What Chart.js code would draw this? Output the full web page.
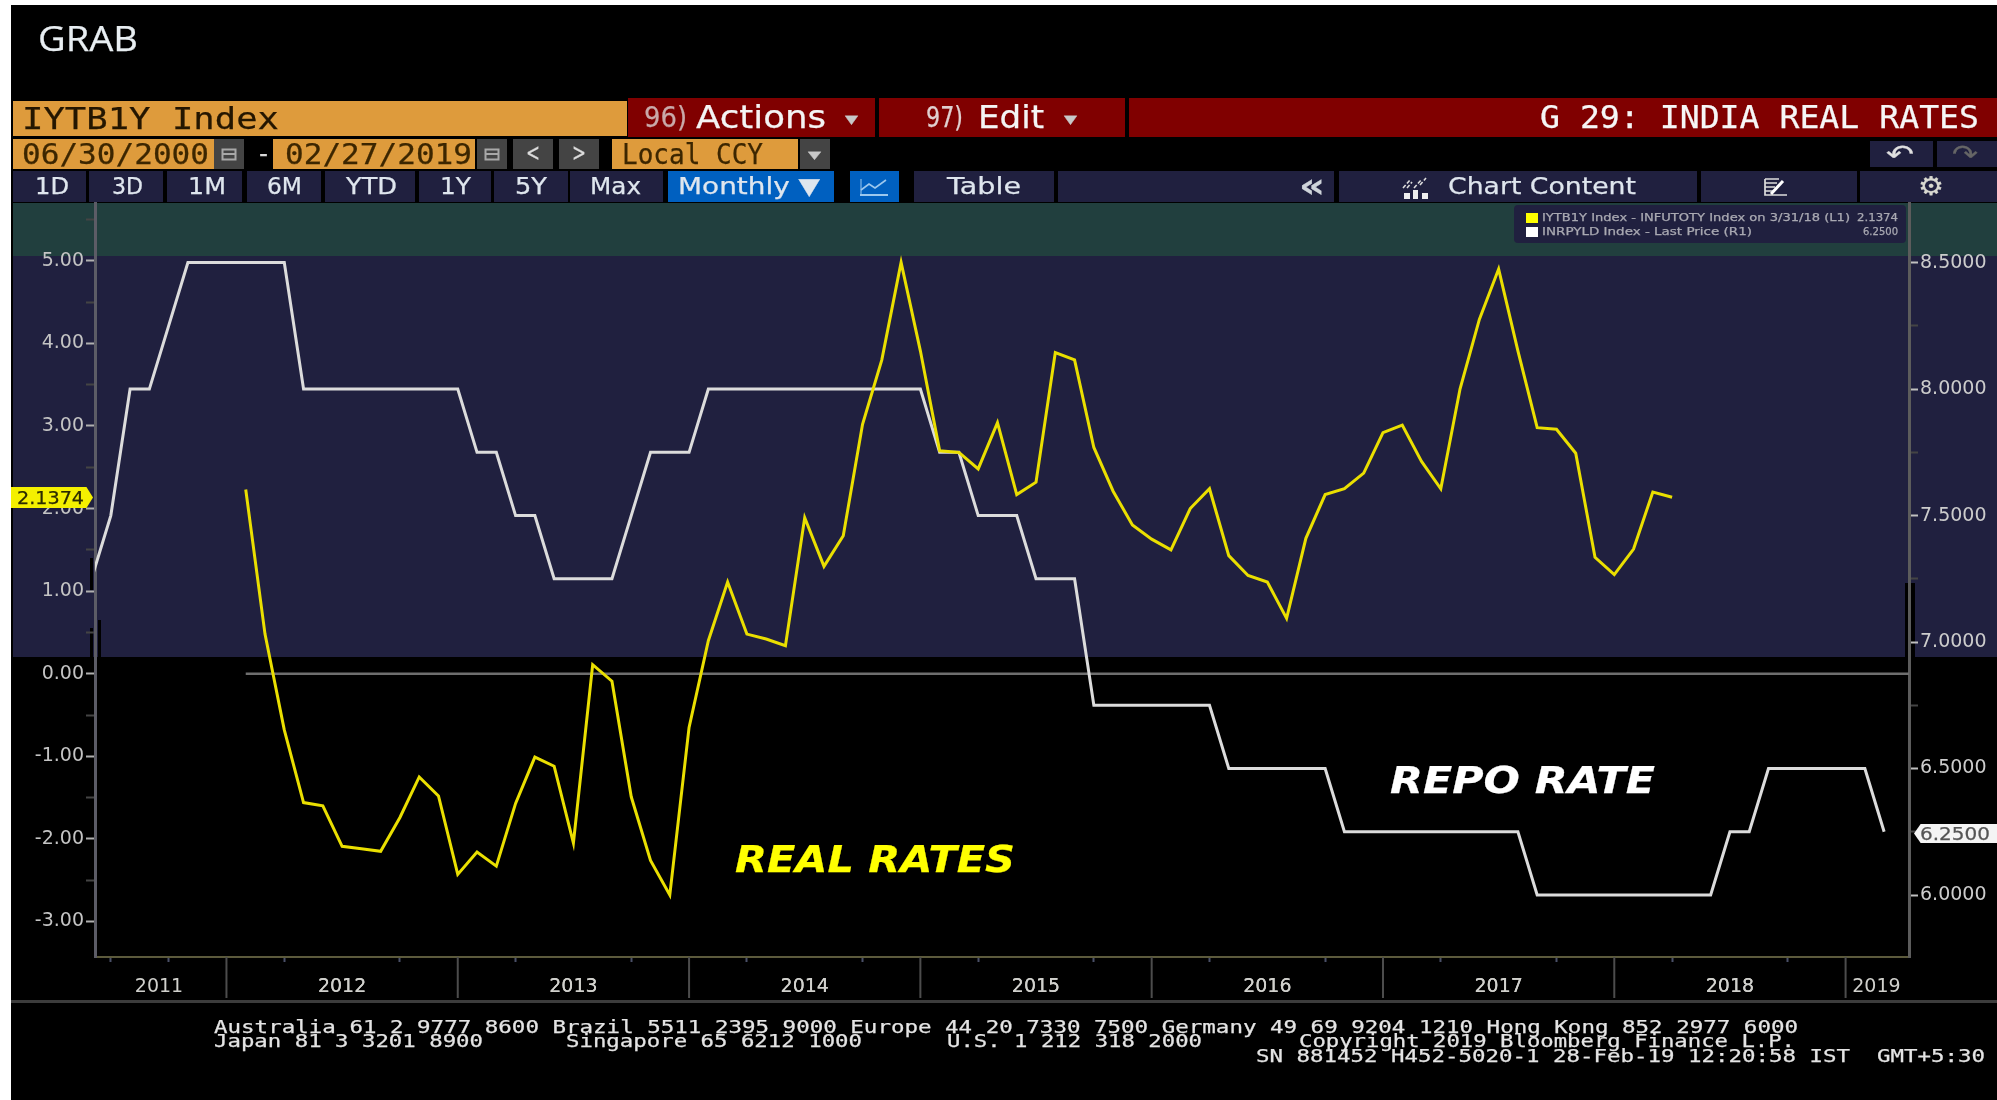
<!DOCTYPE html>
<html><head><meta charset="utf-8"><title>G 29: INDIA REAL RATES</title>
<style>
html,body{margin:0;padding:0;background:#fff;width:1997px;height:1100px;overflow:hidden}
.r{position:absolute}
.t{position:absolute;white-space:pre;transform-origin:0 50%;-webkit-text-stroke:0.25px currentColor}
canvas{position:absolute;left:0;top:0;filter:blur(0.45px)}
#over{position:absolute;left:0;top:0;width:1997px;height:1100px;filter:blur(0.45px)}
</style>
<script src="https://cdn.jsdelivr.net/npm/chart.js@4"></script>
</head><body>
<div id="stage"></div>
<canvas id="c" width="1997" height="1100"></canvas>
<div id="over"></div>
<script>
// ---------- chart data ----------
const months = ["2011-05","2011-06","2011-07","2011-08","2011-09","2011-10","2011-11","2011-12",
"2012-01","2012-02","2012-03","2012-04","2012-05","2012-06","2012-07","2012-08","2012-09","2012-10","2012-11","2012-12",
"2013-01","2013-02","2013-03","2013-04","2013-05","2013-06","2013-07","2013-08","2013-09","2013-10","2013-11","2013-12",
"2014-01","2014-02","2014-03","2014-04","2014-05","2014-06","2014-07","2014-08","2014-09","2014-10","2014-11","2014-12",
"2015-01","2015-02","2015-03","2015-04","2015-05","2015-06","2015-07","2015-08","2015-09","2015-10","2015-11","2015-12",
"2016-01","2016-02","2016-03","2016-04","2016-05","2016-06","2016-07","2016-08","2016-09","2016-10","2016-11","2016-12",
"2017-01","2017-02","2017-03","2017-04","2017-05","2017-06","2017-07","2017-08","2017-09","2017-10","2017-11","2017-12",
"2018-01","2018-02","2018-03","2018-04","2018-05","2018-06","2018-07","2018-08","2018-09","2018-10","2018-11","2018-12",
"2019-01","2019-02"];
const repoRate = [7.25,7.5,8,8,8.25,8.5,8.5,8.5,
8.5,8.5,8.5,8,8,8,8,8,8,8,8,8,
7.75,7.75,7.5,7.5,7.25,7.25,7.25,7.25,7.5,7.75,7.75,7.75,
8,8,8,8,8,8,8,8,8,8,8,8,
7.75,7.75,7.5,7.5,7.5,7.25,7.25,7.25,6.75,6.75,6.75,6.75,
6.75,6.75,6.75,6.5,6.5,6.5,6.5,6.5,6.5,6.25,6.25,6.25,
6.25,6.25,6.25,6.25,6.25,6.25,6.25,6,6,6,6,6,
6,6,6,6,6,6.25,6.25,6.5,6.5,6.5,6.5,6.5,
6.5,6.25];
const realRate = [null,null,null,null,null,null,null,null,
2.23,0.48,-0.68,-1.56,-1.60,-2.09,-2.12,-2.15,-1.74,-1.25,-1.48,-2.43,
-2.16,-2.33,-1.57,-1.01,-1.12,-2.05,0.11,-0.09,-1.49,-2.26,-2.68,-0.65,
0.40,1.11,0.48,0.42,0.34,1.89,1.30,1.67,3.02,3.80,4.98,3.91,
2.70,2.68,2.48,3.04,2.17,2.32,3.89,3.80,2.74,2.21,1.80,1.63,
1.50,2.00,2.24,1.43,1.19,1.11,0.67,1.64,2.17,2.24,2.43,2.92,
3.01,2.57,2.24,3.45,4.29,4.90,3.91,2.98,2.96,2.67,1.41,1.20,
1.51,2.20,2.1374];
const zeroLine = [0,0];
const zeroLineX = [8,94.29];
const yearLabels = ["2011","2012","2013","2014","2015","2016","2017","2018","2019"];
const yearMids = [3.5,13,25,37,49,61,73,85,92.6];
const yearEnds = [7,19,31,43,55,67,79,91];
const quarterEnds = [1,4,10,13,16,22,25,28,34,37,40,46,49,52,58,61,64,70,73,76,82,85,88];
const leftTickLabels = [-3,-2,-1,0,1,2,3,4,5];
const rightTickLabels = [6,6.5,7,7.5,8,8.5];
const seriesNames = ["IYTB1Y Index - INFUTOTY Index on 3/31/18 (L1)","INRPYLD Index - Last Price (R1)"];
const lastValues = ["2.1374","6.2500"];

// ---------- page chrome helpers ----------
const stage=document.getElementById('stage'), over=document.getElementById('over');
function box(p,x0,y0,x1,y1,bg,extra){const d=document.createElement('div');d.className='r';
 d.style.cssText=`left:${x0}px;top:${y0}px;width:${x1-x0}px;height:${y1-y0}px;background:${bg};${extra||''}`;p.appendChild(d);return d;}
function txt(s,x0,x1,cy,size,color,fam,extra){const d=document.createElement('div');d.className='t';d.textContent=s;
 const h=Math.round(size*1.4);
 d.style.cssText=`left:${x0}px;top:${cy-h/2}px;height:${h}px;line-height:${h}px;font-size:${size}px;color:${color};font-family:${fam};${extra||''}`;
 over.appendChild(d);const w=d.getBoundingClientRect().width;d.style.transform=`scaleX(${(x1-x0)/w})`;return d;}
function svg(x,y,w,h,inner){const d=document.createElement('div');d.className='r';
 d.style.cssText=`left:${x}px;top:${y}px;width:${w}px;height:${h}px`;
 d.innerHTML=`<svg width="${w}" height="${h}" viewBox="0 0 ${w} ${h}" fill="none">${inner}</svg>`;over.appendChild(d);}
const SANS="'DejaVu Sans'",MONO="'DejaVu Sans Mono'",NAVY='#20203f',ORANGE='#de9b3c',RED='#800000',GREY='#444444';

// black screen and chart bands (behind the canvas)
box(stage,11,5,1997,1100,'#000');
box(stage,13,203,1997,256,'#213f3e');
box(stage,13,256,1997,657,NAVY);
box(stage,98,620,101,657,'#000');
box(stage,1905,583,1915,657,'#000');
box(stage,90,558,93,590,'#000');
box(stage,90,628,93,657,'#000');
box(stage,11,1000,1997,1003,'#3c3c3c');

// header rows
txt('GRAB',38,138,38,34,'#e8eef2',"'Open Sans'");
box(over,13,101,627,136,ORANGE);
box(over,628,98,875,137,RED);
box(over,879,98,1125,137,RED);
box(over,1129,98,1997,137,RED);
txt('IYTB1Y Index',22,279,118,31,'#241600',MONO);
txt('96)',644,687,117,29,'#c9a9a9',SANS);
txt('Actions',696,826,117,32,'#f4f4f4',SANS);
txt('▾',845,858,118,18,'#c8c8c8',SANS);
txt('97)',926,963,117,29,'#e0d0d0',SANS);
txt('Edit',978,1044,117,32,'#f4f4f4',SANS);
txt('▾',1064,1077,118,18,'#c8c8c8',SANS);
txt('G 29: INDIA REAL RATES',1540,1979,117,32,'#f6f6f6',MONO);

box(over,13,139,214,169,ORANGE);
box(over,214,139,244,169,GREY);
txt('06/30/2000',22,209,154,28,'#3c2600',MONO);
txt('-',259,268,154,24,'#d8d8d8',SANS);
box(over,273,139,475,169,ORANGE);
box(over,477,139,507,169,GREY);
txt('02/27/2019',285,472,154,28,'#3c2600',MONO);
for(const x of [221,484]) svg(x,146,16,16,'<rect x="1.5" y="3.5" width="13" height="10" stroke="#a8a8a8" stroke-width="2"/><rect x="1" y="7" width="14" height="2" fill="#a8a8a8"/>');
box(over,513,139,553,169,GREY);box(over,559,139,599,169,GREY);
txt('<',526,540,153,24,'#dcdcdc',SANS);txt('>',572,586,153,24,'#dcdcdc',SANS);
box(over,612,139,798,169,ORANGE);box(over,800,139,830,169,GREY);
txt('Local CCY',622,763,154,28,'#3c2600',MONO);
txt('▾',808,821,155,16,'#c8c8c8',SANS);
box(over,1870,141,1933,167,NAVY);box(over,1937,141,1997,167,NAVY);
txt('↶',1886,1914,154,26,'#e0e0e0',SANS);txt('↷',1952,1978,154,26,'#666',SANS);

// tab row
const tabs=[[13,86],[89,163],[167,242],[247,321],[325,415],[419,491],[494,568],[570,663],[914,1054],[1058,1334],[1339,1697],[1701,1857],[1860,1997]];
tabs.forEach(a=>box(over,a[0],171,a[1],202,NAVY));
box(over,668,171,834,202,'#0060c0');box(over,850,171,899,202,'#0060c0');
[['1D',35,69],['3D',112,143],['1M',188,226],['6M',267,302],['YTD',346,397],['1Y',440,471],['5Y',515,547],['Max',590,641],['Monthly ▼',678,820],['Table',947,1021],['Chart Content',1448,1636]]
 .forEach(a=>txt(a[0],a[1],a[2],186,23,'#dfe6ee',SANS));
txt('«',1299,1325,185,34,'#cfd4da',SANS,'font-weight:bold');
svg(859,177,30,20,'<polyline points="2,13 10,7 16,11 27,3" stroke="#9cc8ee" stroke-width="1.6"/><line x1="1" y1="18" x2="29" y2="18" stroke="#9cc8ee" stroke-width="2"/><line x1="2" y1="2" x2="2" y2="18" stroke="#9cc8ee"/>');
svg(1402,175,30,24,'<path d="M1 13 L8 5 M5 13 L10 7 M12 13 L20 4 M18 10 L24 3" stroke="#ddd" stroke-width="1.6" stroke-dasharray="4 2"/><rect x="2" y="18" width="6" height="6" fill="#eee"/><rect x="11" y="15" width="5" height="9" fill="#eee"/><rect x="20" y="18" width="6" height="6" fill="#eee"/>');
svg(1763,177,28,20,'<path d="M2 2 H16 M2 6 H14 M2 10 H12 M2 14 H10 M2 2 V18 H24" stroke="#ddd" stroke-width="1.7"/><path d="M8 17 L20 4" stroke="#fff" stroke-width="3"/>');
txt('⚙',1918,1944,186,26,'#d8d8d0',SANS);

// legend box
box(over,1514,205,1906,243,NAVY,'border-radius:4px');
box(over,1526,213,1538,223,'#ffff00');box(over,1526,227,1538,237,'#ffffff');
txt(seriesNames[0],1542,1850,218,10,'#a9a9b2',SANS);
txt(lastValues[0],1857,1898,218,10,'#a9a9b2',SANS);
txt(seriesNames[1],1542,1752,232,10,'#a9a9b2',SANS);
txt(lastValues[1],1863,1898,232,10,'#a9a9b2',SANS);

// last-value tags
box(over,11,487,93,508,'#f4f000','clip-path:polygon(0 0,92% 0,100% 50%,92% 100%,0 100%)');
txt(lastValues[0],17,84,497,18,'#2c2c00',SANS);
box(over,1914,824,1997,843,'#f4f4f4','clip-path:polygon(8% 0,100% 0,100% 100%,8% 100%,0 50%)');
txt(lastValues[1],1920,1990,833.5,18,'#555',SANS);

// hand-written notes on the chart
txt('REAL RATES',735,1015,860,37,'#ffff00',SANS,'font-weight:bold;font-style:italic');
txt('REPO RATE',1390,1655,781,37,'#ffffff',SANS,'font-weight:bold;font-style:italic');

// footer
const FT='#e4e4e4';
txt('Australia 61 2 9777 8600 Brazil 5511 2395 9000 Europe 44 20 7330 7500 Germany 49 69 9204 1210 Hong Kong 852 2977 6000',214,1798,1026,18,FT,MONO);
txt('Japan 81 3 3201 8900',214,483,1040,18,FT,MONO);
txt('Singapore 65 6212 1000',566,862,1040,18,FT,MONO);
txt('U.S. 1 212 318 2000',947,1202,1040,18,FT,MONO);
txt('Copyright 2019 Bloomberg Finance L.P.',1299,1795,1040,18,FT,MONO);
txt('SN 881452 H452-5020-1 28-Feb-19 12:20:58 IST  GMT+5:30',1256,1985,1055,18,FT,MONO);

// ---------- chart ----------
const xTicks=[...quarterEnds,...yearMids].sort((a,b)=>a-b);
const yearSeparators={id:'yearSeparators',afterDraw(ch){const g=ch.ctx,s=ch.scales.x;g.save();g.strokeStyle='#4c4c4c';g.lineWidth=2;
 yearEnds.forEach(v=>{const x=s.getPixelForValue(v);g.beginPath();g.moveTo(x,s.top);g.lineTo(x,998);g.stroke();});g.restore();}};
const Y_FONT={family:"'DejaVu Sans'",size:19};
new Chart(document.getElementById('c'),{
 type:'line',
 data:{datasets:[
  {label:seriesNames[0],data:realRate.map((v,i)=>({x:i,y:v})),yAxisID:'yL',borderColor:'#eadf00',borderWidth:3,pointRadius:0,tension:0,spanGaps:false},
  {label:seriesNames[1],data:repoRate.map((v,i)=>({x:i,y:v})),yAxisID:'yR',borderColor:'#dcdcdc',borderWidth:3,pointRadius:0,tension:0},
  {label:'Zero',data:zeroLine.map((v,i)=>({x:zeroLineX[i],y:v})),yAxisID:'yL',borderColor:'#6e6e6e',borderWidth:2.4,pointRadius:0}
 ]},
 options:{
  responsive:false,animation:false,
  layout:{padding:{top:203,left:0,right:0,bottom:0}},
  plugins:{legend:{display:false},tooltip:{enabled:false},title:{display:false}},
  scales:{
   x:{type:'linear',min:0.18,max:94.29,position:'bottom',
    afterBuildTicks:s=>{s.ticks=xTicks.map(value=>({value}));},
    afterFit:s=>{s.height=143;},
    border:{color:'#5c5a3c',width:2},
    grid:{drawOnChartArea:false,tickLength:5,tickWidth:2,tickColor:c=>yearMids.includes(c.tick&&c.tick.value)?'rgba(0,0,0,0)':'#4a5068'},
    ticks:{autoSkip:false,maxRotation:0,padding:14,color:'#d0d0cc',font:{family:"'DejaVu Sans'",size:19},
     callback:v=>{const i=yearMids.indexOf(v);return i<0?'':yearLabels[i];}}
   },
   yL:{type:'linear',position:'left',min:-3.43,max:5.70,
    afterFit:s=>{s.width=95;},
    border:{color:'#5c5c66',width:3},
    grid:{drawOnChartArea:false,tickLength:9,tickWidth:2,tickColor:c=>leftTickLabels.includes(c.tick&&c.tick.value)?'#b0b0b0':'#444'},
    ticks:{stepSize:0.5,includeBounds:false,autoSkip:false,padding:2,color:'#c4c4c4',font:Y_FONT,
     callback:v=>leftTickLabels.includes(v)?v.toFixed(2):''}
   },
   yR:{type:'linear',position:'right',min:5.755,max:8.7356,
    afterFit:s=>{s.width=88;},
    border:{color:'#5c5c5c',width:3},
    grid:{drawOnChartArea:false,tickLength:9,tickWidth:2,tickColor:c=>rightTickLabels.includes(c.tick&&c.tick.value)?'#c0c0c0':'#444'},
    ticks:{stepSize:0.25,includeBounds:false,autoSkip:false,padding:2,color:'#cccccc',font:Y_FONT,
     callback:v=>rightTickLabels.includes(v)?v.toFixed(4):''}
   }
  }
 },
 plugins:[yearSeparators]
});
</script>
</body></html>
